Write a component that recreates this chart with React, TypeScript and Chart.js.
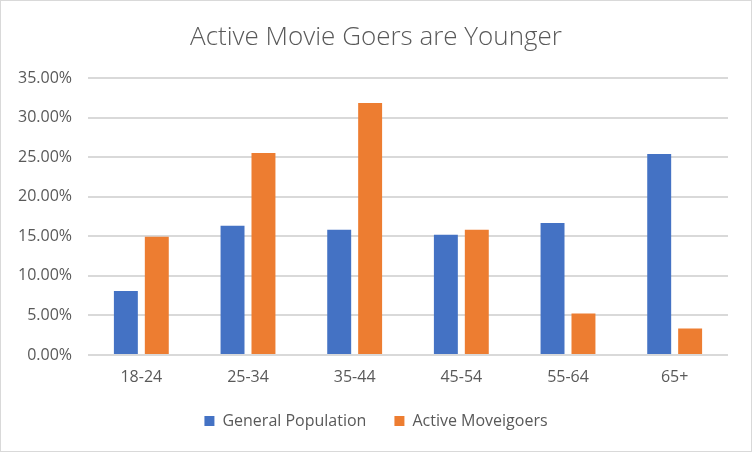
import React, { useEffect, useRef } from "react";
import { Chart, registerables } from "chart.js";

Chart.register(...registerables);

const categories = ["18-24", "25-34", "35-44", "45-54", "55-64", "65+"];
const generalPopulation = [8.1, 16.35, 15.85, 15.2, 16.7, 25.4];
const activeMoviegoers = [14.95, 25.55, 31.85, 15.85, 5.25, 3.35];
const seriesNames = ["General Population", "Active Moveigoers"];
const titleText = "Active Movie Goers are Younger";

const FONT = "'Open Sans', Lato, sans-serif";
const TEXT = "#595959";

export default function App() {
  const ref = useRef<HTMLCanvasElement | null>(null);
  useEffect(() => {
    document.body.style.margin = "0";
    const canvas = ref.current;
    if (!canvas) return;
    const chart = new Chart(canvas, {
      type: "bar",
      data: {
        labels: categories,
        datasets: [
          {
            label: seriesNames[0],
            data: generalPopulation,
            backgroundColor: "#4472C4",
            categoryPercentage: 0.58,
            barPercentage: 0.774,
          },
          {
            label: seriesNames[1],
            data: activeMoviegoers,
            backgroundColor: "#ED7D31",
            categoryPercentage: 0.58,
            barPercentage: 0.774,
          },
        ],
      },
      options: {
        responsive: false,
        animation: false,
        layout: { padding: { left: 0, right: 0, top: 0, bottom: 12 } },
        plugins: {
          title: {
            display: true,
            text: titleText,
            color: TEXT,
            font: { family: FONT, size: 26, weight: "300" },
            padding: { top: 21, bottom: 25 },
          },
          legend: {
            position: "bottom",
            labels: {
              color: TEXT,
              font: { family: FONT, size: 16 },
              boxWidth: 10,
              boxHeight: 10,
              padding: 28,
            },
          },
          tooltip: { enabled: false },
        },
        scales: {
          x: {
            afterFit: (scale: any) => {
              scale.height = 30;
            },
            grid: { display: false, drawTicks: false },
            border: { display: false },
            ticks: { color: TEXT, font: { family: FONT, size: 16 }, padding: 13 },
          },
          y: {
            min: 0,
            max: 35,
            afterFit: (scale: any) => {
              scale.width = 87;
            },
            grid: { color: "#d9d9d9", lineWidth: 2, drawTicks: false },
            border: { display: false },
            ticks: {
              stepSize: 5,
              color: TEXT,
              font: { family: FONT, size: 16 },
              padding: 16,
              callback: (v: any) => Number(v).toFixed(2) + "%",
            },
          },
          yRight: {
            position: "right",
            display: true,
            afterFit: (scale: any) => {
              scale.width = 23;
            },
            grid: { display: false, drawTicks: false },
            border: { display: false },
            ticks: { display: false },
          },
        },
      },
    });
    return () => chart.destroy();
  }, []);
  return (
    <div
      style={{
        width: 752,
        height: 452,
        boxSizing: "border-box",
        border: "1px solid #d9d9d9",
        background: "#fff",
      }}
    >
      <canvas ref={ref} width={750} height={450} style={{ display: "block" }} />
    </div>
  );
}
